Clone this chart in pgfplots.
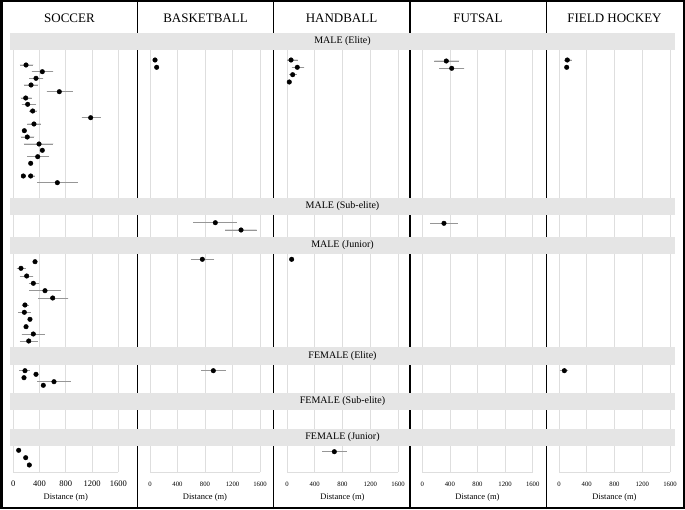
\documentclass[border=0pt]{standalone}
\usepackage{pgfplots}
\pgfplotsset{compat=1.18}
\usepackage{fontspec}
\setmainfont{Liberation Serif}
\definecolor{stripc}{RGB}{229,229,229}
\definecolor{gridc}{RGB}{222,222,222}
\definecolor{errc}{RGB}{150,150,150}
\pgfplotsset{
  panel/.style 2 args={
    scale only axis, width=#1, height=439pt,
    at={(#2,37pt)}, anchor=south west,
    xmin=0, xmax=1600, ymin=-472, ymax=-33,
    axis x line*=bottom, axis y line=none,
    axis line style={gridc, line width=0.8pt},
    xtick={0,400,800,1200,1600}, ytick=\empty,
    xmajorgrids, grid style={gridc, line width=0.8pt},
    major tick length=0pt,
    /pgf/number format/assume math mode=true,
    /pgf/number format/1000 sep={},
    xlabel={Distance (m)},
    xlabel style={font=\fontsize{8.5}{10}\selectfont, at={(axis description cs:0.5,0)}, anchor=center, yshift=-25pt},
    clip=false,
  },
  tick6/.style={xticklabel style={font=\fontsize{6.7}{8}\selectfont, yshift=-6.5pt}},
  tick8/.style={xticklabel style={font=\fontsize{8.5}{10}\selectfont, yshift=-5.5pt}},
  dots/.style={only marks, mark=*, mark size=2.3pt, draw=black, fill=black,
    mark options={draw=black, fill=black},
    error bars/.cd, x dir=both, x explicit,
    error bar style={draw=errc, line width=0.9pt}, error mark=none},
}
\begin{document}
\begin{tikzpicture}
\useasboundingbox (0,0) rectangle (685pt,509pt);
% SOCCER
\begin{axis}[panel={105pt}{13.3pt}, tick8]
\addplot[dots] table[x=x,y=y,x error minus=m,x error plus=p,row sep=\\]{
x y m p\\
194 -65 92 111\\
442 -71.7 162 168\\
346 -78.3 102 111\\
270 -85 107 111\\
701 -91.7 192 204\\
189 -98 77 91\\
219 -104.3 91 127\\
295 -111 51 71\\
1179 -117.7 137 153\\
315 -124 102 107\\
168 -130.7 0 0\\
213 -137 101 107\\
392 -144 229 218\\
442 -150.3 0 0\\
372 -156.7 159 172\\
265 -163.3 0 0\\
153 -176 20 20\\
265 -176 40 65\\
671 -182.7 305 310\\
331 -261.7 0 0\\
117 -268.3 66 72\\
204 -276 102 101\\
305 -283.3 66 87\\
483 -290.7 239 239\\
600 -298 219 238\\
178 -305 50 61\\
168 -312.3 92 97\\
254 -319.3 0 0\\
194 -326.7 0 0\\
305 -334 177 178\\
235 -341 133 137\\
178 -370.7 87 76\\
346 -374.3 0 0\\
163 -377.7 0 0\\
620 -381.7 254 255\\
457 -385.3 0 0\\
82 -450.3 0 0\\
189 -457.7 0 0\\
244 -465 0 0\\
};
\end{axis}
% BASKETBALL
\begin{axis}[panel={110pt}{150pt}, tick6]
\addplot[dots] table[x=x,y=y,x error minus=m,x error plus=p,row sep=\\]{
x y m p\\
73 -60 0 0\\
97 -67.3 0 0\\
950 -222.7 320 311\\
1324 -230 233 228\\
761 -259.3 168 171\\
921 -370.7 179 180\\
};
\end{axis}
% HANDBALL
\begin{axis}[panel={111pt}{287pt}, tick6]
\addplot[dots] table[x=x,y=y,x error minus=m,x error plus=p,row sep=\\]{
x y m p\\
58 -60 58 96\\
148 -67.3 80 102\\
82 -74.7 53 58\\
33 -82 0 0\\
67 -259.3 0 0\\
682 -451.7 173 178\\
};
\end{axis}
% FUTSAL
\begin{axis}[panel={110.4pt}{422.3pt}, tick6]
\addplot[dots] table[x=x,y=y,x error minus=m,x error plus=p,row sep=\\]{
x y m p\\
348 -61 174 184\\
426 -68.3 184 183\\
314 -223.3 202 199\\
};
\end{axis}
% FIELD HOCKEY
\begin{axis}[panel={111pt}{559pt}, tick6]
\addplot[dots] table[x=x,y=y,x error minus=m,x error plus=p,row sep=\\]{
x y m p\\
120 -60 44 63\\
111 -67.3 0 0\\
77 -370.7 63 57\\
};
\end{axis}
% column separators
\foreach \cx in {137.5,273.5,409.8,546.5} \draw[line width=1.7pt] (\cx pt,0) -- (\cx pt,509pt);
% strips
\fill[stripc] (10pt,459pt) rectangle (675pt,476pt);
\fill[stripc] (10pt,294pt) rectangle (675pt,311pt);
\fill[stripc] (10pt,255pt) rectangle (675pt,272pt);
\fill[stripc] (10pt,144.5pt) rectangle (675pt,161.5pt);
\fill[stripc] (10pt,99.5pt) rectangle (675pt,116.5pt);
\fill[stripc] (10pt,63.5pt) rectangle (675pt,80.5pt);
\begin{scope}[every node/.style={font=\fontsize{10}{12}\selectfont, inner sep=0pt}]
\node at (342.5pt,467.5pt) {MALE (Elite)};
\node at (342.5pt,302.5pt) {MALE (Sub-elite)};
\node at (342.5pt,263.5pt) {MALE (Junior)};
\node at (342.5pt,153pt) {FEMALE (Elite)};
\node at (342.5pt,108pt) {FEMALE (Sub-elite)};
\node at (342.5pt,72pt) {FEMALE (Junior)};
\end{scope}
\begin{scope}[every node/.style={font=\fontsize{13}{15}\selectfont, inner sep=0pt}]
\node at (69.5pt,491pt) {SOCCER};
\node at (205.5pt,491pt) {BASKETBALL};
\node at (341.5pt,491pt) {HANDBALL};
\node at (478pt,491pt) {FUTSAL};
\node at (614.5pt,491pt) {FIELD HOCKEY};
\end{scope}
\draw[line width=2.5pt] (1.25pt,1.25pt) rectangle (683.75pt,507.75pt);
\end{tikzpicture}
\end{document}
